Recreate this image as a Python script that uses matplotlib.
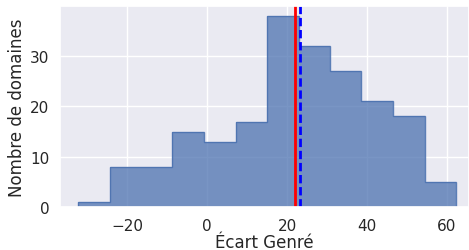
import numpy as np
import matplotlib
matplotlib.use("Agg")
import matplotlib.pyplot as plt
import seaborn as sns

sns.set_theme(style="darkgrid")
plt.rcParams['font.family'] = ['DejaVu Sans']

bin_edges = [-32.3, -24.4, -16.5, -8.7, -0.8, 7.1, 15.0, 22.9, 30.8, 38.6, 46.5, 54.4, 62.3]
counts = [1, 8, 8, 15, 13, 17, 38, 32, 27, 21, 18, 5]
median_value = 21.9
mean_value = 23.3

fig = plt.figure(figsize=(4.69, 2.51), dpi=100)
ax = fig.add_axes([60/469, 1 - 208.3/251, 409/469, (208.3 - 7)/251])

c0 = sns.color_palette()[0]
ax.stairs(counts, bin_edges, fill=True, color=c0, alpha=0.75, linewidth=0)
ax.stairs(counts, bin_edges, baseline=0, color=c0, linewidth=1.0, alpha=0.9)

ax.axvline(median_value, color="red", linewidth=2)
ax.axvline(mean_value, color="blue", linewidth=2, linestyle="--", dashes=(3.0, 1.35))

ax.set_xlim(-36.8, 65.5)
ax.set_ylim(0, 39.9)
ax.set_xticks([-20, 0, 20, 40, 60])
ax.set_yticks([0, 10, 20, 30])
ax.set_xlabel("Écart Genré", fontsize=12, labelpad=0)
ax.set_ylabel("Nombre de domaines", fontsize=12, labelpad=3)
ax.tick_params(axis="x", labelsize=11, pad=1.8)
ax.tick_params(axis="y", labelsize=11, pad=1.5)

fig.savefig("out.png", dpi=100)
